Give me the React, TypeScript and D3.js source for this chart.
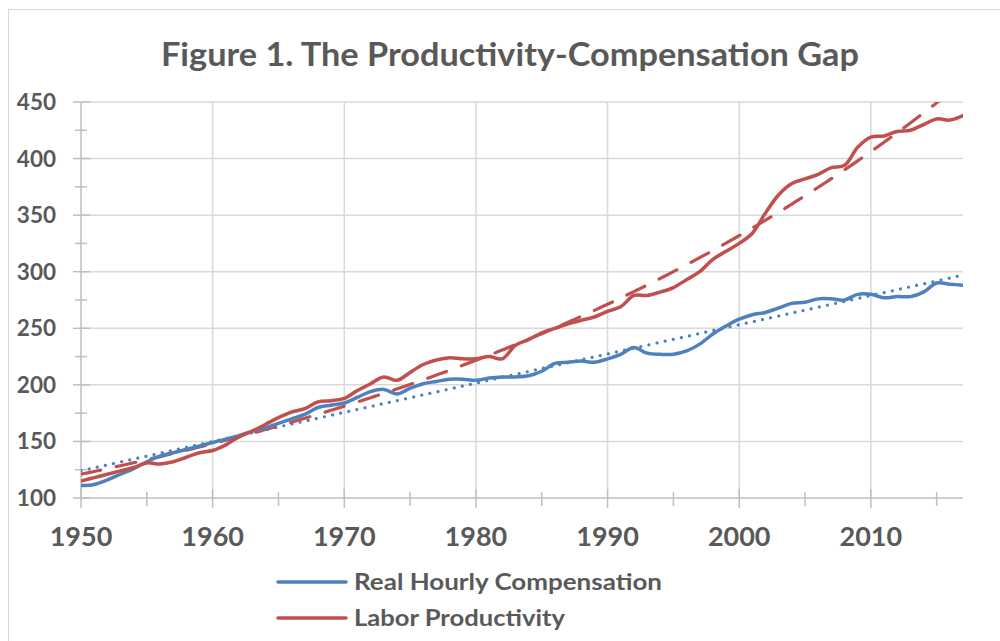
import React, { useEffect, useRef } from 'react'
import * as d3 from 'd3'

// years 1950 - 2017
const years: number[] = d3.range(1950, 2018)

const compensation: number[] = [
  111, 112, 116, 121, 126, 132, 137, 140, 143, 146,
  149, 152, 155, 159, 162, 166, 170, 174, 180, 182,
  184, 189, 194, 196, 192, 197, 201, 203, 205, 205,
  204, 206, 207, 207, 208, 212, 219, 220, 221, 220,
  223, 227, 233, 228, 227, 227, 230, 236, 245, 252,
  258, 262, 264, 268, 272, 273, 276, 276, 275, 280,
  280, 277, 278, 278, 282, 290, 289, 288
]

const productivity: number[] = [
  115, 118, 121, 124, 127, 131, 130, 132, 136, 140,
  142, 147, 154, 159, 165, 171, 176, 179, 185, 186,
  188, 195, 201, 207, 204, 211, 218, 222, 224, 223,
  223, 225, 223, 235, 240, 246, 250, 254, 257, 260,
  265, 269, 279, 279, 282, 286, 293, 300, 311, 318,
  325, 334, 352, 368, 378, 382, 386, 392, 394, 410,
  419, 420, 424, 425, 430, 435, 434, 438
]

const yTicks: number[] = [100, 150, 200, 250, 300, 350, 400, 450]
const xTicks: number[] = [1950, 1960, 1970, 1980, 1990, 2000, 2010]
const seriesNames: string[] = ['Real Hourly Compensation', 'Labor Productivity']
const seriesColors: string[] = ['#4F81BD', '#C0504D']
const title = 'Figure 1. The Productivity-Compensation Gap'

const App = () => {
  const ref = useRef<SVGSVGElement>(null)

  useEffect(() => {
    const svg = d3.select(ref.current)
    svg.selectAll('*').remove()

    const left = 81
    const right = 963
    const top = 102
    const bottom = 498
    const font = 'Lato, "Open Sans", sans-serif'
    const textColor = '#595959'

    const x = d3.scaleLinear().domain([1950, 2017]).range([left, right])
    const y = d3.scaleLinear().domain([100, 450]).range([bottom, top])

    // chart border
    svg.append('rect')
      .attr('x', 8.5).attr('y', 9.5)
      .attr('width', 1100).attr('height', 700)
      .attr('fill', 'white').attr('stroke', '#d9d9d9')

    svg.append('text')
      .attr('x', 510).attr('y', 66)
      .attr('text-anchor', 'middle')
      .attr('font-family', font).attr('font-weight', 700)
      .attr('font-size', 32).attr('fill', textColor)
      .attr('textLength', 698).attr('lengthAdjust', 'spacingAndGlyphs')
      .text(title)

    // gridlines
    svg.append('g').selectAll('line').data(yTicks.slice(1)).enter().append('line')
      .attr('x1', left).attr('x2', right)
      .attr('y1', d => y(d)).attr('y2', d => y(d))
      .attr('stroke', '#d9d9d9').attr('stroke-width', 1.5)
    svg.append('g').selectAll('line').data(xTicks.slice(1)).enter().append('line')
      .attr('x1', d => x(d)).attr('x2', d => x(d))
      .attr('y1', top).attr('y2', bottom)
      .attr('stroke', '#d9d9d9').attr('stroke-width', 1.5)

    // axes
    const axisColor = '#bfbfbf'
    svg.append('line').attr('x1', left).attr('x2', left).attr('y1', top).attr('y2', bottom)
      .attr('stroke', axisColor).attr('stroke-width', 1.5)
    svg.append('line').attr('x1', left).attr('x2', right).attr('y1', bottom).attr('y2', bottom)
      .attr('stroke', axisColor).attr('stroke-width', 1.5)

    // y ticks (major + minor)
    svg.append('g').selectAll('line').data(yTicks).enter().append('line')
      .attr('x1', left - 8).attr('x2', left + 9)
      .attr('y1', d => y(d)).attr('y2', d => y(d))
      .attr('stroke', axisColor).attr('stroke-width', 1.5)
    svg.append('g').selectAll('line').data(yTicks.slice(1).map(d => d - 25)).enter().append('line')
      .attr('x1', left - 6).attr('x2', left + 6)
      .attr('y1', d => y(d)).attr('y2', d => y(d))
      .attr('stroke', axisColor).attr('stroke-width', 1.5)

    // x ticks (major + minor)
    svg.append('g').selectAll('line').data(xTicks).enter().append('line')
      .attr('x1', d => x(d)).attr('x2', d => x(d))
      .attr('y1', bottom - 9).attr('y2', bottom + 10)
      .attr('stroke', axisColor).attr('stroke-width', 1.5)
    svg.append('g').selectAll('line').data(xTicks.map(d => d + 5)).enter().append('line')
      .attr('x1', d => x(d)).attr('x2', d => x(d))
      .attr('y1', bottom - 6).attr('y2', bottom + 8)
      .attr('stroke', axisColor).attr('stroke-width', 1.5)

    // tick labels
    svg.append('g').selectAll('text').data(yTicks).enter().append('text')
      .attr('x', 56).attr('y', d => y(d) + 8)
      .attr('text-anchor', 'end')
      .attr('font-family', font).attr('font-weight', 700)
      .attr('font-size', 22.5).attr('fill', textColor)
      .text(d => d)
    svg.append('g').selectAll('text').data(xTicks).enter().append('text')
      .attr('x', d => x(d)).attr('y', 546)
      .attr('text-anchor', 'middle')
      .attr('font-family', font).attr('font-weight', 700)
      .attr('font-size', 27).attr('fill', textColor)
      .text(d => d)

    svg.append('clipPath').attr('id', 'plotClip')
      .append('rect').attr('x', left).attr('y', top)
      .attr('width', right - left).attr('height', bottom - top)

    // trendlines: linear for compensation, exponential for productivity
    const mx = d3.mean(years) as number
    const myC = d3.mean(compensation) as number
    const sxx = d3.sum(years, t => (t - mx) * (t - mx))
    const slopeC = d3.sum(years, (t, i) => (t - mx) * (compensation[i] - myC)) / sxx
    const logP = productivity.map(v => Math.log(v))
    const myP = d3.mean(logP) as number
    const slopeP = d3.sum(years, (t, i) => (t - mx) * (logP[i] - myP)) / sxx
    const fine = d3.range(1950, 2017.01, 0.25)

    const trend = d3.line<number>().x(t => x(t))
    const trendG = svg.append('g').attr('clip-path', 'url(#plotClip)')

    trendG.append('path')
      .attr('d', trend.y(t => y(myC + slopeC * (t - mx)))(fine))
      .attr('fill', 'none').attr('stroke', seriesColors[0])
      .attr('stroke-width', 3.2).attr('stroke-linecap', 'round')
      .attr('stroke-dasharray', '0.01 8.3')

    trendG.append('path')
      .attr('d', trend.y(t => y(Math.exp(myP + slopeP * (t - mx))))(fine))
      .attr('fill', 'none').attr('stroke', seriesColors[1])
      .attr('stroke-width', 3.2).attr('stroke-linecap', 'round')
      .attr('stroke-dasharray', '20 16')

    // data lines
    const line = d3.line<number>()
      .x((d, i) => x(years[i]))
      .y(d => y(d))
      .curve(d3.curveCatmullRom)

    const lineG = svg.append('g').attr('clip-path', 'url(#plotClip)')
    ;[compensation, productivity].forEach((series, k) => {
      lineG.append('path')
        .datum(series)
        .attr('d', line)
        .attr('fill', 'none')
        .attr('stroke', seriesColors[k])
        .attr('stroke-width', 3.5)
        .attr('stroke-linejoin', 'round')
        .attr('stroke-linecap', 'round')
    })

    // legend
    const legendWidths = [308, 211]
    seriesNames.forEach((name, k) => {
      const ly = 582 + k * 36
      svg.append('line')
        .attr('x1', 278).attr('x2', 346)
        .attr('y1', ly).attr('y2', ly)
        .attr('stroke', seriesColors[k]).attr('stroke-width', 3.5)
        .attr('stroke-linecap', 'round')
      svg.append('text')
        .attr('x', 354).attr('y', ly + 8)
        .attr('font-family', font).attr('font-weight', 700)
        .attr('font-size', 23).attr('fill', textColor)
        .attr('textLength', legendWidths[k]).attr('lengthAdjust', 'spacingAndGlyphs')
        .text(name)
    })
  }, [])

  return (
    <svg
      ref={ref}
      width={1000}
      height={641}
      style={{ position: 'absolute', left: 0, top: 0, background: 'white' }}
    />
  )
}

export default App
